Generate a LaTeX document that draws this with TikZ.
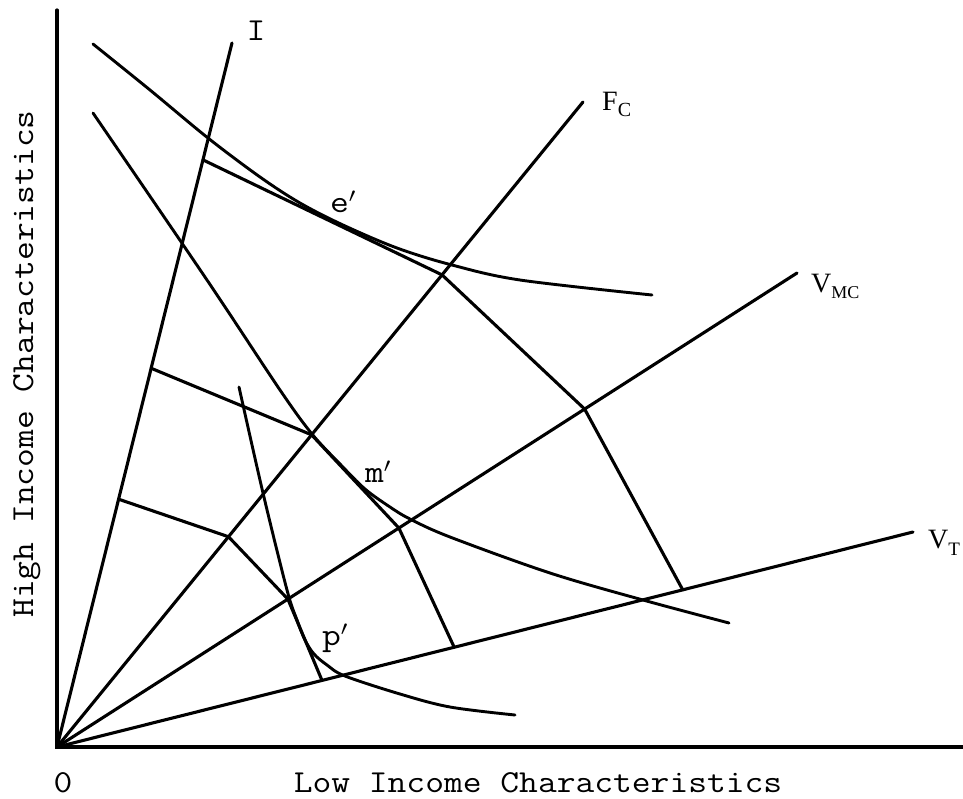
\documentclass[tikz,border=0pt]{standalone}
\usepackage{fontspec}
\setmainfont{Liberation Serif}
\usetikzlibrary{calc}
\newcommand\stt[1]{\scalebox{1.14}[1]{#1}}
\begin{document}
\begin{tikzpicture}[x=1pt,y=-1pt,
  ln/.style={line width=3.1pt, line cap=round, line join=miter},
  crv/.style={line width=2.9pt, line cap=round},
  mono/.style={font=\fontsize{32}{36}\selectfont\ttfamily, inner sep=0pt},
  ser/.style={font=\fontsize{28}{30}\selectfont, inner sep=0pt}]
\useasboundingbox (0,0) rectangle (963,798);
% origin and ray ends
\coordinate (O) at (57,747);
\coordinate (Ie) at (232,43);
\coordinate (Fe) at (583,102);
\coordinate (Me) at (797,273);
\coordinate (Te) at (913,532);
\coordinate (Ytop) at (57,10);
\coordinate (Xend) at (963,747);
% axes
\draw[ln, line width=3.2pt] (Ytop) -- (O) -- (Xend);
% rays
\draw[ln] (O) -- (Ie);
\draw[ln] (O) -- (Fe);
\draw[ln] (O) -- (Me);
\draw[ln] (O) -- (Te);
% kink points
\coordinate (a1) at ($(O)!0.834!(Ie)$);
\coordinate (a2) at ($(O)!0.732!(Fe)$);
\coordinate (a3) at ($(O)!0.713!(Me)$);
\coordinate (a4) at ($(O)!0.731!(Te)$);
\coordinate (b1) at ($(O)!0.538!(Ie)$);
\coordinate (b2) at ($(O)!0.484!(Fe)$);
\coordinate (b3) at ($(O)!0.462!(Me)$);
\coordinate (b4) at ($(O)!0.464!(Te)$);
\coordinate (c1) at ($(O)!0.352!(Ie)$);
\coordinate (c2) at ($(O)!0.326!(Fe)$);
\coordinate (c3) at ($(O)!0.312!(Me)$);
\coordinate (c4) at ($(O)!0.3096!(Te)$);
\draw[ln] (a1) -- (a2) -- (a3) -- (a4);
\draw[ln] (b1) -- (b2) -- (b3) -- (b4);
\draw[ln] (c1) -- (c2) -- (c3) -- (c4);
% curves
\draw[crv] plot[smooth, tension=0.55] coordinates {(93,44) (150,90) (208,138) (260,177) (300,203) (343,225) (397,248) (452,265) (520,280) (652,295)};
\draw[crv] plot[smooth, tension=0.55] coordinates {(93,113) (207,280) (280,390) (312,434) (340,464) (365,489) (390,507) (410,519) (450,537) (550,573) (643,600) (729,623)};
\draw[crv] plot[smooth, tension=0.55] coordinates {(239,387) (263,493) (287,590) (297,620) (305,640) (314,654) (327,665) (345,676) (400,694) (450,707) (515,715)};
% labels
\node[mono, anchor=base] (lI) at (256,40) {\stt{I}};
\node[ser, anchor=base west] (lF) at (602,110) {F\raisebox{-6pt}{\fontsize{20}{22}\selectfont C}};
\node[ser, anchor=base west] (lVM) at (811,292) {V\raisebox{-6pt}{\fontsize{18}{20}\selectfont MC}};
\node[ser, anchor=base west] (lVT) at (928,548) {V\raisebox{-7pt}{\fontsize{19}{20}\selectfont T}};
\node[mono, anchor=base west] (le) at (330,212) {\stt{e$'$}};
\node[mono, anchor=base west] (lm) at (365,482) {\stt{m$'$}};
\node[mono, anchor=base west] (lp) at (322,645) {\stt{p$'$}};
\node[mono, anchor=base] (l0) at (63,792) {\stt{0}};
\node[mono, anchor=base] (lx) at (538,792) {\stt{Low Income Characteristics}};
\node[mono, anchor=base, rotate=90] (ly) at (33,364) {\stt{High Income Characteristics}};
\end{tikzpicture}
\end{document}
